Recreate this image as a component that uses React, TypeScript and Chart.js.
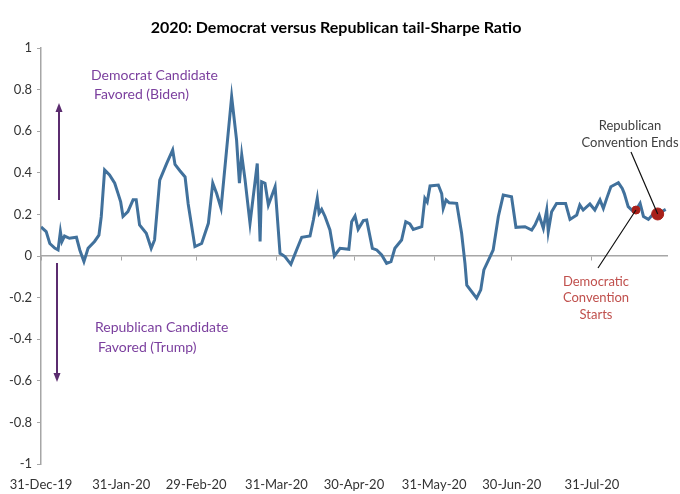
import React, { useEffect, useRef } from "react";
import { Chart, registerables } from "chart.js";

Chart.register(...registerables);

// Days after 31-Dec-19
const dayOffsets = [
  0, 2, 3.4, 5.3, 6.6, 7.5, 8.1, 9.1, 11, 13.7, 15, 16.6, 18.2, 20.7, 22.4, 23.3,
  24.6, 26.5, 28.5, 29.8, 30.8, 31.7, 33.6, 35.6, 36.8, 38.1, 40.7, 42.6, 43.9,
  45.9, 48.6, 50.9, 51.8, 53.7, 55.7, 56.9, 59.5, 62.1, 64.7, 66.4, 67.9, 69.6,
  73.7, 75.6, 76.7, 77.6, 78.9, 80.8, 83.6, 84.7, 85.3, 86.6, 87.9, 90.5, 92.4,
  94.3, 96.6, 98.8, 100.8, 104, 105.3, 106.8, 107.5, 108.5, 109.8, 111.7, 113.4,
  115.6, 119, 120.1, 121.4, 122.6, 124.6, 125.9, 128.1, 129.8, 131.7, 133.6,
  135.3, 136.8, 139.4, 141, 142.6, 143.9, 147.2, 148.4, 149.3, 150.4, 153.6,
  154.9, 155.5, 156.6, 157.8, 160.7, 162.6, 163.9, 164.6, 168.4, 170, 171.2,
  173.3, 174.8, 176.8, 178.7, 181.9, 183.6, 187.1, 189.7, 191, 192.6, 194.2,
  195.5, 196.1, 197.4, 199.3, 202.8, 204.5, 207.1, 208.3, 209.6, 212.2, 214.1,
  216.1, 217.4, 218.7, 220.3, 223.2, 224.7, 225.5, 227, 229, 230, 231.6, 232.9,
  234.8, 236.3, 238.4, 239.9, 241.5,
];

const tailSharpe = [
  0.14, 0.117, 0.06, 0.038, 0.029, 0.117, 0.07, 0.096, 0.085, 0.09, 0.029, -0.027,
  0.037, 0.07, 0.1, 0.19, 0.414, 0.39, 0.35, 0.3, 0.26, 0.19, 0.213, 0.27, 0.27,
  0.149, 0.109, 0.037, 0.077, 0.365, 0.445, 0.51, 0.44, 0.41, 0.38, 0.25, 0.045,
  0.06, 0.157, 0.35, 0.3, 0.23, 0.766, 0.558, 0.35, 0.486, 0.365, 0.157, 0.445,
  0.07, 0.357, 0.35, 0.245, 0.333, 0.013, -0.003, -0.04, 0.029, 0.09, 0.096,
  0.173, 0.277, 0.205, 0.224, 0.19, 0.125, 0.0, 0.037, 0.032, 0.165, 0.192,
  0.128, 0.17, 0.173, 0.037, 0.029, 0.005, -0.035, -0.027, 0.037, 0.077, 0.165,
  0.154, 0.128, 0.141, 0.277, 0.26, 0.337, 0.341, 0.3, 0.229, 0.27, 0.256, 0.253,
  0.109, -0.035, -0.14, -0.203, -0.163, -0.067, -0.011, 0.029, 0.19, 0.293,
  0.285, 0.138, 0.141, 0.125, 0.15, 0.195, 0.133, 0.221, 0.117, 0.213, 0.253,
  0.253, 0.176, 0.197, 0.245, 0.221, 0.25, 0.221, 0.27, 0.229, 0.277, 0.333,
  0.352, 0.325, 0.3, 0.237, 0.213, 0.221, 0.253, 0.19, 0.176, 0.197, 0.202,
  0.213, 0.224,
];

const tickDays = [0, 31, 60, 91, 121, 152, 182, 213];
const tickLabels = [
  "31-Dec-19", "31-Jan-20", "29-Feb-20", "31-Mar-20",
  "30-Apr-20", "31-May-20", "30-Jun-20", "31-Jul-20",
];

const eventDays = [230, 238.4]; // Democratic convention starts, Republican convention ends
const eventValues = [0.221, 0.202];
const eventRadii = [4, 6];

const FONT = "Lato, 'Open Sans', sans-serif";

const annotationPlugin = {
  id: "annotations",
  afterDraw(chart: any) {
    const ctx = chart.ctx;
    const xs = chart.scales.x;
    const ys = chart.scales.y;
    ctx.save();
    // Title
    ctx.fillStyle = "#000";
    ctx.font = `bold 16px ${FONT}`;
    ctx.textAlign = "center";
    ctx.textBaseline = "middle";
    ctx.fillText("2020: Democrat versus Republican tail-Sharpe Ratio", 336, 28);

    // Purple labels
    ctx.fillStyle = "#7B3F9E";
    ctx.font = `14px ${FONT}`;
    ctx.textAlign = "left";
    ctx.fillText("Democrat Candidate", 91, 75);
    ctx.fillText("Favored (Biden)", 94, 94);
    ctx.fillText("Republican Candidate", 95, 327);
    ctx.fillText("Favored (Trump)", 98, 347);

    // Arrows
    const arrow = (x: number, y1: number, y2: number) => {
      ctx.strokeStyle = "#5B2C6F";
      ctx.fillStyle = "#5B2C6F";
      ctx.lineWidth = 2;
      const dir = y2 < y1 ? -1 : 1;
      ctx.beginPath();
      ctx.moveTo(x, y1);
      ctx.lineTo(x, y2 - dir * 7);
      ctx.stroke();
      ctx.beginPath();
      ctx.moveTo(x, y2);
      ctx.lineTo(x - 3.5, y2 - dir * 9);
      ctx.lineTo(x + 3.5, y2 - dir * 9);
      ctx.closePath();
      ctx.fill();
    };
    arrow(59, 200, 103);
    arrow(57, 263, 382);

    // Leader lines
    const dem = { x: xs.getPixelForValue(eventDays[0]), y: ys.getPixelForValue(eventValues[0]) };
    const rep = { x: xs.getPixelForValue(eventDays[1]), y: ys.getPixelForValue(eventValues[1]) };
    ctx.strokeStyle = "#111";
    ctx.lineWidth = 1.2;
    ctx.beginPath();
    ctx.moveTo(631, 152);
    ctx.lineTo(rep.x, rep.y);
    ctx.moveTo(598, 268);
    ctx.lineTo(dem.x, dem.y);
    ctx.stroke();

    // Convention labels
    ctx.font = `13px ${FONT}`;
    ctx.textAlign = "center";
    ctx.fillStyle = "#404040";
    ctx.fillText("Republican", 630, 126);
    ctx.fillText("Convention Ends", 630, 143);
    ctx.fillStyle = "#C0504D";
    ctx.fillText("Democratic", 596, 282);
    ctx.fillText("Convention", 596, 298);
    ctx.fillText("Starts", 596, 315);
    ctx.restore();
  },
};

export default function App() {
  const ref = useRef<HTMLCanvasElement>(null);
  useEffect(() => {
    document.body.style.margin = "0";
    const setTicks = (s: any) => {
      s.ticks = tickDays.map((v) => ({ value: v }));
    };
    const chart = new Chart(ref.current as HTMLCanvasElement, {
      type: "line",
      data: {
        datasets: [
          {
            type: "scatter",
            data: eventDays.map((d, i) => ({ x: d, y: eventValues[i] })),
            pointRadius: eventRadii,
            backgroundColor: "#A8201A",
            borderColor: "#A8201A",
            order: 1,
          } as any,
          {
            data: dayOffsets.map((d, i) => ({ x: d, y: tailSharpe[i] })),
            borderColor: "#41719C",
            borderWidth: 3,
            pointRadius: 0,
            tension: 0,
            fill: false,
            order: 2,
          },
        ],
      },
      options: {
        animation: false,
        responsive: false,
        maintainAspectRatio: false,
        layout: { padding: { top: 48, right: 13, left: 0, bottom: 0 } },
        plugins: {
          legend: { display: false },
          tooltip: { enabled: false },
          title: { display: false },
        },
        scales: {
          x: {
            type: "linear",
            min: 0,
            max: 242,
            position: "bottom",
            afterBuildTicks: setTicks,
            afterFit: (s: any) => {
              s.height = 30;
            },
            ticks: {
              autoSkip: false,
              maxRotation: 0,
              padding: 5,
              color: "#333",
              font: { family: FONT, size: 13 },
              callback: (v: any) => {
                const i = tickDays.indexOf(Number(v));
                return i >= 0 ? tickLabels[i] : "";
              },
            },
            grid: { display: false },
            border: { display: false },
          },
          xZero: {
            type: "linear",
            axis: "x",
            min: 0,
            max: 242,
            position: { y: 0 },
            afterBuildTicks: setTicks,
            ticks: {
              display: true,
              color: "rgba(0,0,0,0)",
              font: { size: 1 },
              callback: () => "",
            },
            grid: {
              drawOnChartArea: false,
              drawTicks: true,
              tickLength: 4,
              color: "#A6A6A6",
              lineWidth: 1,
            },
            border: { color: "#A6A6A6", width: 1.5 },
          },
          y: {
            min: -1,
            max: 1,
            afterFit: (s: any) => {
              s.width = 41;
            },
            ticks: {
              stepSize: 0.2,
              padding: 5,
              color: "#333",
              font: { family: FONT, size: 13 },
              callback: (v: any) => String(Math.round(Number(v) * 10) / 10),
            },
            grid: {
              drawOnChartArea: false,
              drawTicks: true,
              tickLength: 4,
              color: "#A6A6A6",
            },
            border: { color: "#A6A6A6", width: 1.5 },
          },
        } as any,
      },
      plugins: [annotationPlugin],
    });
    return () => chart.destroy();
  }, []);
  return (
    <div style={{ position: "relative", width: 680, height: 494 }}>
      <canvas ref={ref} width={680} height={494} style={{ width: 680, height: 494 }} />
    </div>
  );
}
